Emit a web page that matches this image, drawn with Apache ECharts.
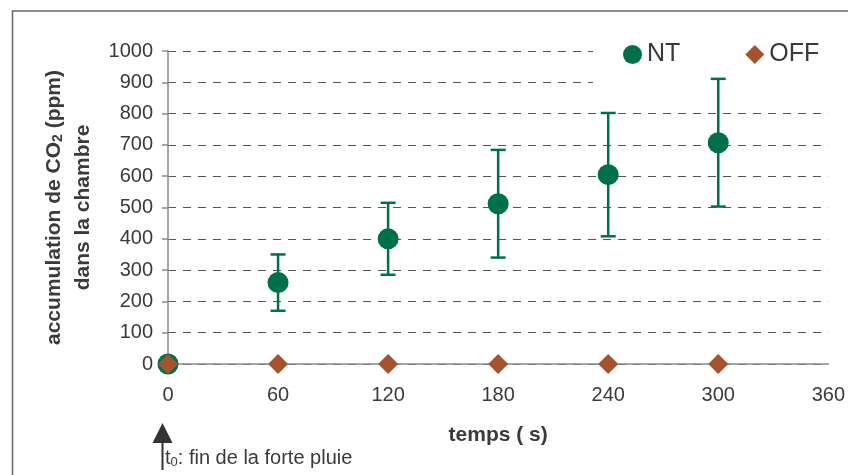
<!DOCTYPE html>
<html>
<head>
<meta charset="utf-8">
<script src="https://cdn.jsdelivr.net/npm/echarts@6/dist/echarts.min.js"></script>
<style>
html,body{margin:0;padding:0;background:#fff;}
#chart{width:848px;height:475px;}
</style>
</head>
<body>
<div id="chart"></div>
<script>
// Data
const times = [0, 60, 120, 180, 240, 300];
const ntMean = [0, 260, 400, 512, 605, 707];
const ntErr = [0, 90, 115, 172, 197, 204];
const offMean = [0, 0, 0, 0, 0, 0];
const xTicks = [0, 60, 120, 180, 240, 300, 360];
const yTicks = [0, 100, 200, 300, 400, 500, 600, 700, 800, 900, 1000];
const seriesNames = ['NT', 'OFF'];

const FONT = '"Liberation Sans", Arial, sans-serif';
const TXT = '#3a3a3a';
const GREEN = '#00704A';
const BROWN = '#A5522F';

const ntData = times.map((t, i) => [t, ntMean[i]]);
const offData = times.map((t, i) => [t, offMean[i]]);
const errData = times.map((t, i) => [t, ntMean[i] - ntErr[i], ntMean[i] + ntErr[i]]).filter(d => d[2] > d[1]);

const chart = echarts.init(document.getElementById('chart'), null, {renderer: 'canvas'});
chart.setOption({
  backgroundColor: '#fff',
  animation: false,
  textStyle: {fontFamily: FONT},
  grid: {left: 168, right: 18, top: 51, bottom: 111, containLabel: false},
  legend: {
    left: 623, top: 42, padding: 0, itemGap: 65,
    itemWidth: 19, itemHeight: 19,
    textStyle: {fontSize: 25, color: TXT, fontFamily: FONT},
    data: [
      {name: seriesNames[0], icon: 'circle'},
      {name: seriesNames[1], icon: 'diamond'}
    ]
  },
  xAxis: {
    type: 'value', min: xTicks[0], max: xTicks[xTicks.length - 1], interval: 60,
    axisLine: {show: true, onZero: false, lineStyle: {color: '#8a8a8a', width: 1.5}},
    axisTick: {show: false},
    splitLine: {show: false},
    axisLabel: {fontSize: 20, color: TXT, margin: 21, fontFamily: FONT, formatter: v => String(v)},
    name: 'temps ( s)', nameLocation: 'middle', nameGap: 61,
    nameTextStyle: {fontSize: 21, fontWeight: 'bold', color: TXT, fontFamily: FONT}
  },
  yAxis: {
    type: 'value', min: yTicks[0], max: yTicks[yTicks.length - 1], interval: 100,
    axisLine: {show: true, lineStyle: {color: '#8a8a8a', width: 1.5}},
    axisTick: {show: true, length: 6, lineStyle: {color: '#8a8a8a', width: 1.5}},
    splitLine: {show: true, lineStyle: {color: '#555', width: 1, type: [8, 7]}},
    axisLabel: {fontSize: 20, color: TXT, margin: 15, fontFamily: FONT, formatter: v => String(v)},
    name: '{b|accumulation de CO}{s|2}{b| (ppm)}\n{b|dans la chambre}',
    nameLocation: 'middle', nameRotate: 90, nameGap: 68,
    nameTextStyle: {
      color: TXT, fontFamily: FONT, lineHeight: 29, align: 'center',
      rich: {
        b: {fontSize: 21, fontWeight: 'bold', color: TXT, fontFamily: FONT, lineHeight: 29},
        s: {fontSize: 14, fontWeight: 'bold', color: TXT, fontFamily: FONT, lineHeight: 29, padding: [9, 0, 0, 0]}
      }
    }
  },
  graphic: [
    {type: 'rect', z: 1, shape: {x: 593, y: 36, width: 250, height: 62}, style: {fill: '#fff'}},
    {type: 'rect', z: 10, shape: {x: 12.5, y: 11, width: 900, height: 600}, style: {fill: null, stroke: '#666', lineWidth: 1.5}},
    {type: 'polygon', z: 10, shape: {points: [[152.5, 443], [172.5, 443], [162.5, 423]]}, style: {fill: '#333'}},
    {type: 'line', z: 10, shape: {x1: 162.5, y1: 442, x2: 162.5, y2: 470}, style: {stroke: '#333', lineWidth: 2}},
    {type: 'text', z: 10, left: 165, top: 448, style: {
      text: '{a|t}{s|0}{a|: fin de la forte pluie}',
      rich: {
        a: {fontSize: 20, fill: TXT, fontFamily: FONT, lineHeight: 22},
        s: {fontSize: 13, fill: TXT, fontFamily: FONT, lineHeight: 22, padding: [8, 0, 0, 0]}
      }
    }}
  ],
  series: [
    {
      type: 'custom', name: 'err', z: 2, silent: true,
      data: errData,
      renderItem: function (params, api) {
        const x = api.value(0);
        const lo = api.coord([x, api.value(1)]);
        const hi = api.coord([x, api.value(2)]);
        const hw = 7.5;
        const st = {stroke: GREEN, lineWidth: 2.5};
        return {type: 'group', children: [
          {type: 'line', shape: {x1: lo[0], y1: lo[1], x2: hi[0], y2: hi[1]}, style: st},
          {type: 'line', shape: {x1: hi[0] - hw, y1: hi[1], x2: hi[0] + hw, y2: hi[1]}, style: st},
          {type: 'line', shape: {x1: lo[0] - hw, y1: lo[1], x2: lo[0] + hw, y2: lo[1]}, style: st}
        ]};
      }
    },
    {
      type: 'scatter', name: seriesNames[0], z: 3, data: ntData,
      symbol: 'circle', symbolSize: 21, itemStyle: {color: GREEN, opacity: 1}
    },
    {
      type: 'scatter', name: seriesNames[1], z: 4, data: offData,
      symbol: 'diamond', symbolSize: 20, itemStyle: {color: BROWN, opacity: 1}
    }
  ]
});
</script>
</body>
</html>
